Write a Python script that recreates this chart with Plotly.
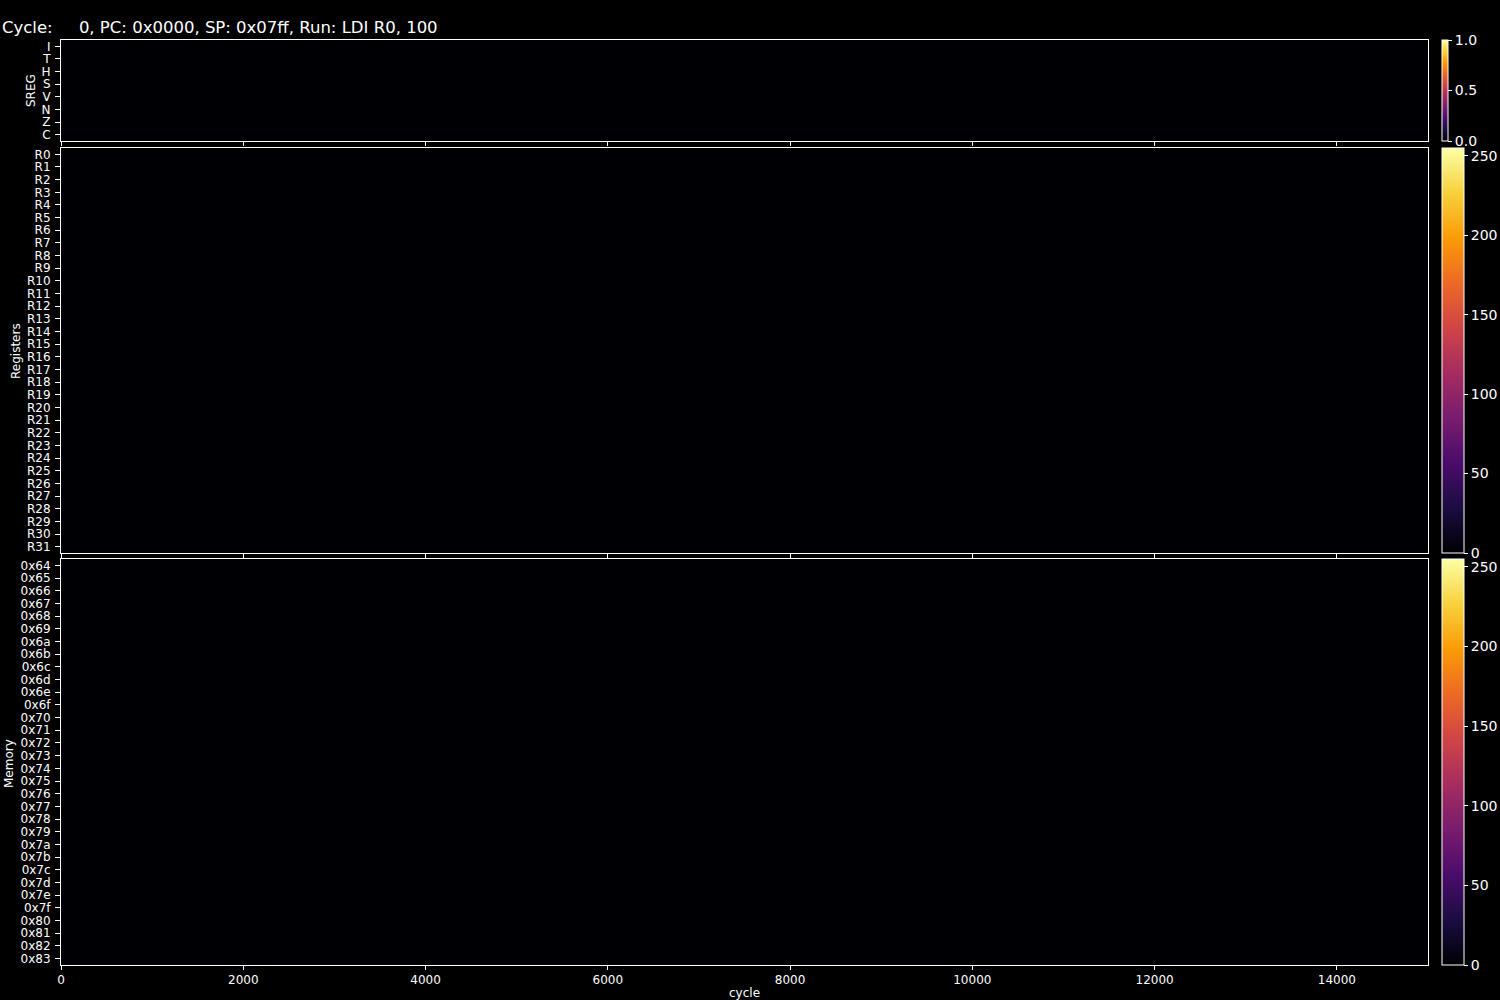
import plotly.graph_objects as go

# ---- data ----
sreg_labels = ["I", "T", "H", "S", "V", "N", "Z", "C"]
reg_labels = ["R0", "R1", "R2", "R3", "R4", "R5", "R6", "R7", "R8", "R9",
              "R10", "R11", "R12", "R13", "R14", "R15", "R16", "R17", "R18", "R19",
              "R20", "R21", "R22", "R23", "R24", "R25", "R26", "R27", "R28", "R29",
              "R30", "R31"]
mem_labels = ["0x64", "0x65", "0x66", "0x67", "0x68", "0x69", "0x6a", "0x6b",
              "0x6c", "0x6d", "0x6e", "0x6f", "0x70", "0x71", "0x72", "0x73",
              "0x74", "0x75", "0x76", "0x77", "0x78", "0x79", "0x7a", "0x7b",
              "0x7c", "0x7d", "0x7e", "0x7f", "0x80", "0x81", "0x82", "0x83"]
cycle_edges = [0, 15000]
cycle_ticks = [0, 2000, 4000, 6000, 8000, 10000, 12000, 14000]
sreg_values = [[0] for _ in sreg_labels]
reg_values = [[0] for _ in reg_labels]
mem_values = [[0] for _ in mem_labels]
sreg_cbar_ticks = [0, 0.5, 1.0]
byte_cbar_ticks = [0, 50, 100, 150, 200, 250]
title_text = "Cycle:\u00a0\u00a0\u00a0\u00a0\u00a00, PC: 0x0000, SP: 0x07ff, Run: LDI R0, 100"

# ---- layout geometry (pixels) ----
W, H = 1500, 1000
L, R, T, B = 61, 1428, 40, 965
pw, ph = R - L, B - T

def py(p):
    return (B - p) / ph

def px(p):
    return (p - L) / pw

dom1 = [py(141), py(40)]
dom2 = [py(553), py(148)]
dom3 = [py(965), py(559)]

FONT = "DejaVu Sans"
fig = go.Figure()

def cbar(dom, ticks, fmt, thick):
    return dict(
        x=px(1442), xanchor="left", xpad=0, ypad=0,
        y=(dom[0] + dom[1]) / 2, yanchor="middle",
        len=dom[1] - dom[0], lenmode="fraction",
        thickness=thick, thicknessmode="pixels",
        outlinecolor="white", outlinewidth=1,
        ticks="outside", ticklen=4, tickcolor="white",
        tickmode="array", tickvals=ticks, tickformat=fmt,
        tickfont=dict(family=FONT, size=14, color="white"),
    )

fig.add_trace(go.Heatmap(z=sreg_values, x=cycle_edges, y=sreg_labels,
                         colorscale="Inferno", zmin=0, zmax=1,
                         colorbar=cbar(dom1, sreg_cbar_ticks, ".1f", 6),
                         xaxis="x", yaxis="y", hoverinfo="skip"))
fig.add_trace(go.Heatmap(z=reg_values, x=cycle_edges, y=reg_labels,
                         colorscale="Inferno", zmin=0, zmax=255,
                         colorbar=cbar(dom2, byte_cbar_ticks, "d", 22),
                         xaxis="x2", yaxis="y2", hoverinfo="skip"))
fig.add_trace(go.Heatmap(z=mem_values, x=cycle_edges, y=mem_labels,
                         colorscale="Inferno", zmin=0, zmax=255,
                         colorbar=cbar(dom3, byte_cbar_ticks, "d", 22),
                         xaxis="x3", yaxis="y3", hoverinfo="skip"))

tickfont = dict(family=FONT, size=12, color="white")
xcommon = dict(range=[0, 15000], tickmode="array", tickvals=cycle_ticks,
               tickformat="d",
               showline=True, linecolor="white", linewidth=1, mirror=True,
               ticks="outside", ticklen=4, tickcolor="white", showgrid=False,
               zeroline=False, tickfont=tickfont)

def ycommon(labels):
    return dict(showline=True, linecolor="white", linewidth=1, mirror=True,
                ticks="outside", ticklen=5, tickcolor="white", showgrid=False,
                zeroline=False, tickfont=tickfont, autorange="reversed",
                ticklabelstandoff=2,
                type="category", tickmode="array", tickvals=labels, ticktext=labels)

fig.update_layout(
    width=W, height=H,
    margin=dict(l=L, r=W - R, t=T, b=H - B, pad=0, autoexpand=False),
    paper_bgcolor="black", plot_bgcolor="black",
    font=dict(family=FONT, color="white"),
    xaxis=dict(domain=[0, 1], anchor="y", showticklabels=False, **xcommon),
    xaxis2=dict(domain=[0, 1], anchor="y2", showticklabels=False, **xcommon),
    xaxis3=dict(domain=[0, 1], anchor="y3", showticklabels=True, **xcommon),
    yaxis=dict(domain=dom1, anchor="x", **ycommon(sreg_labels)),
    yaxis2=dict(domain=dom2, anchor="x2", **ycommon(reg_labels)),
    yaxis3=dict(domain=dom3, anchor="x3", **ycommon(mem_labels)),
    showlegend=False,
)

ann = []
ann.append(dict(text=title_text, x=px(0), y=py(28), xref="paper", yref="paper",
                xanchor="left", yanchor="middle", showarrow=False,
                font=dict(family=FONT, size=16.5, color="white")))
for txt, x0, y0 in [("SREG", 31, 91), ("Registers", 16, 351), ("Memory", 9, 764)]:
    ann.append(dict(text=txt, x=px(x0), y=py(y0), xref="paper", yref="paper",
                    xanchor="center", yanchor="middle", showarrow=False, textangle=-90,
                    font=dict(family=FONT, size=12, color="white")))
ann.append(dict(text="cycle", x=px(744), y=py(993), xref="paper", yref="paper",
                xanchor="center", yanchor="middle", showarrow=False,
                font=dict(family=FONT, size=12, color="white")))
fig.update_layout(annotations=ann)

fig.write_html("out.html",
               config={"displayModeBar": False},
               post_script="document.body.style.margin='0';"
                           "document.body.style.background='black';")
